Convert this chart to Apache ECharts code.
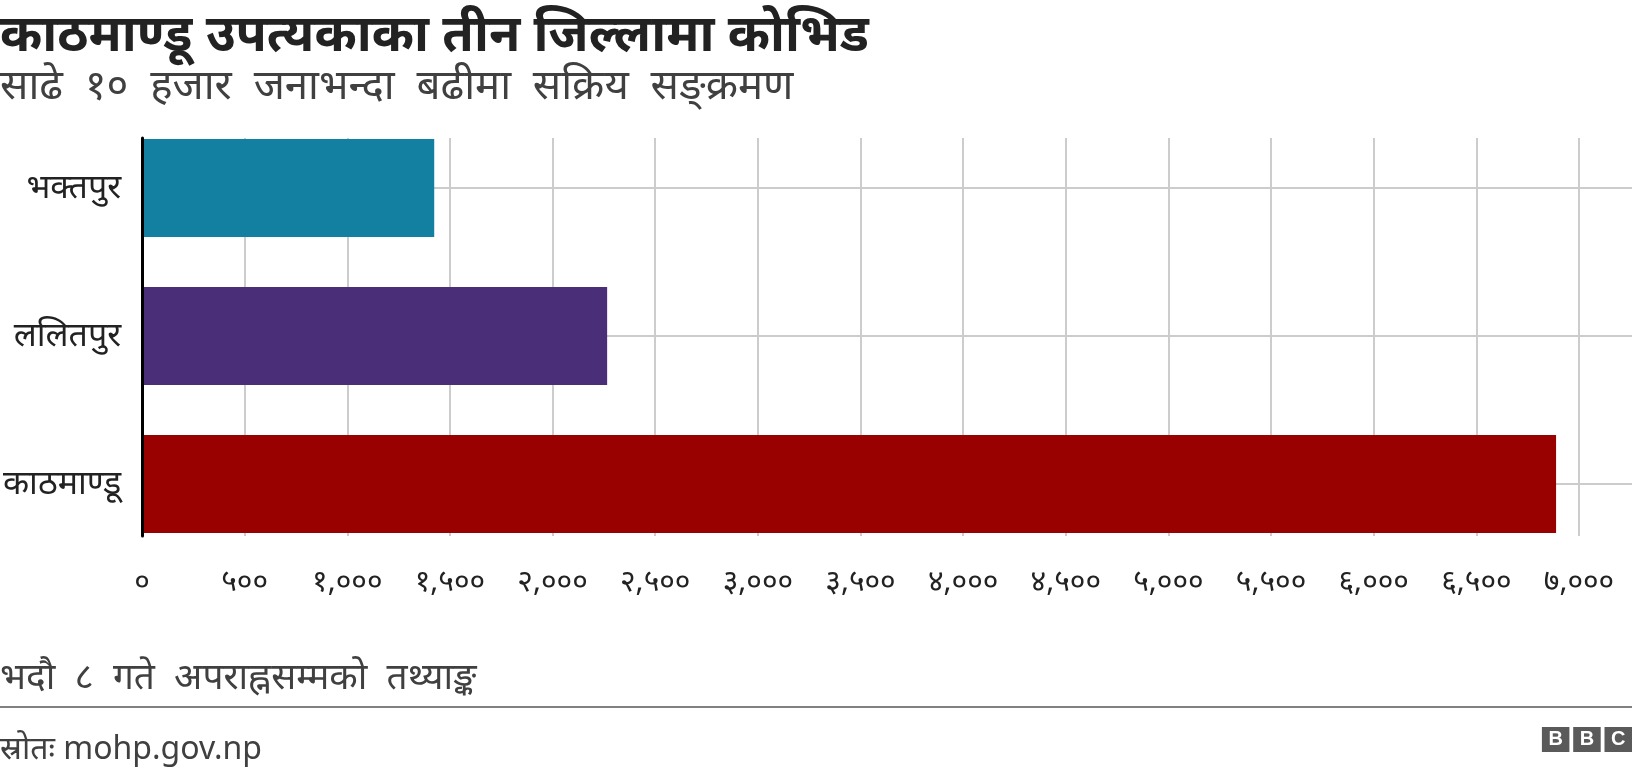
<!DOCTYPE html>
<html>
<head>
<meta charset="utf-8">
<script src="https://cdn.jsdelivr.net/npm/echarts@6/dist/echarts.min.js"></script>
<style>
html, body { margin: 0; padding: 0; background: #fff; }
#chart { width: 1632px; height: 774px; }
</style>
</head>
<body>
<div id="chart"></div>
<script>
// data
var districts = ['भक्तपुर', 'ललितपुर', 'काठमाण्डू'];
var activeCases = [1419, 2262, 6888];
var barColors = ['#1380a1', '#4b2e78', '#990000'];
var tickLabels = ['०', '५००', '१,०००', '१,५००', '२,०००', '२,५००', '३,०००', '३,५००',
    '४,०००', '४,५००', '५,०००', '५,५००', '६,०००', '६,५००', '७,०००'];
var tickStep = 500;

var FONT = '"Noto Sans", sans-serif';
var W = 1632, plotLeft = 142, plotRight = 53;
// bars live in a second grid that reaches the right edge, so its hidden axis is stretched
var barMax = 7000 * (W - plotLeft) / (W - plotLeft - plotRight);

var chart = echarts.init(document.getElementById('chart'));
chart.setOption({
    animation: false,
    backgroundColor: '#fff',
    title: [
        { text: 'काठमाण्डू उपत्यकाका तीन जिल्लामा कोभिड', left: 0, top: 11, padding: 0,
          textStyle: { fontFamily: FONT, fontSize: 51, fontWeight: 'bold', color: '#222' } },
        { text: 'साढे  १०  हजार  जनाभन्दा  बढीमा  सक्रिय  सङ्क्रमण', left: 0, top: 66, padding: 0,
          textStyle: { fontFamily: FONT, fontSize: 42, fontWeight: 'normal', color: '#404040' } },
        { text: 'भदौ  ८  गते  अपराह्नसम्मको  तथ्याङ्क', left: 0, top: 660, padding: 0,
          textStyle: { fontFamily: FONT, fontSize: 37, fontWeight: 'normal', color: '#404040' } },
        { text: 'स्रोतः mohp.gov.np', left: 0, top: 734, padding: 0,
          textStyle: { fontFamily: FONT, fontSize: 32, fontWeight: 'normal', color: '#404040' } }
    ],
    grid: [
        { left: plotLeft, right: plotRight, top: 138, bottom: 238 },
        { left: plotLeft, right: 0, top: 114, bottom: 216 }
    ],
    xAxis: [
        { gridIndex: 0, type: 'value', min: 0, max: 7000, interval: tickStep,
          axisLine: { show: false }, axisTick: { show: false },
          splitLine: { show: true, lineStyle: { color: '#cccccc', width: 2 } },
          axisLabel: { margin: 31, fontFamily: FONT, fontSize: 30, color: '#222',
              formatter: function (v) { return tickLabels[Math.round(v / tickStep)]; } } },
        { gridIndex: 1, type: 'value', min: 0, max: barMax, show: false }
    ],
    yAxis: [
        { gridIndex: 0, type: 'category', data: [''], z: 5,
          axisLine: { show: true, lineStyle: { color: '#000', width: 3 } },
          axisTick: { show: false }, axisLabel: { show: false }, splitLine: { show: false } },
        { gridIndex: 1, type: 'category', data: districts, inverse: true,
          axisLine: { show: false }, axisTick: { show: false },
          splitLine: { show: true, alignWithLabel: true, lineStyle: { color: '#cccccc', width: 2 } },
          axisLabel: { margin: 22, fontFamily: FONT, fontSize: 34, color: '#222' } }
    ],
    series: [{
        type: 'bar',
        xAxisIndex: 1,
        yAxisIndex: 1,
        barCategoryGap: '33.8%',
        data: activeCases.map(function (v, i) {
            return { value: v, itemStyle: { color: barColors[i] } };
        })
    }],
    graphic: [
        { type: 'line', shape: { x1: 0, y1: 707, x2: W, y2: 707 },
          style: { stroke: '#808080', lineWidth: 2 } },
        { type: 'group', right: 0, top: 727, children: ['B', 'B', 'C'].map(function (ch, i) {
            return { type: 'group', x: i * 31.3, children: [
                { type: 'rect', shape: { x: 0, y: 0, width: 27.5, height: 25 }, style: { fill: '#5a5a5a' } },
                { type: 'text', x: 13.75, y: 12.5, style: { text: ch, fill: '#fff', font: 'bold 20px Arial, sans-serif',
                    align: 'center', verticalAlign: 'middle' } }
            ] };
        }) }
    ]
});
</script>
</body>
</html>
